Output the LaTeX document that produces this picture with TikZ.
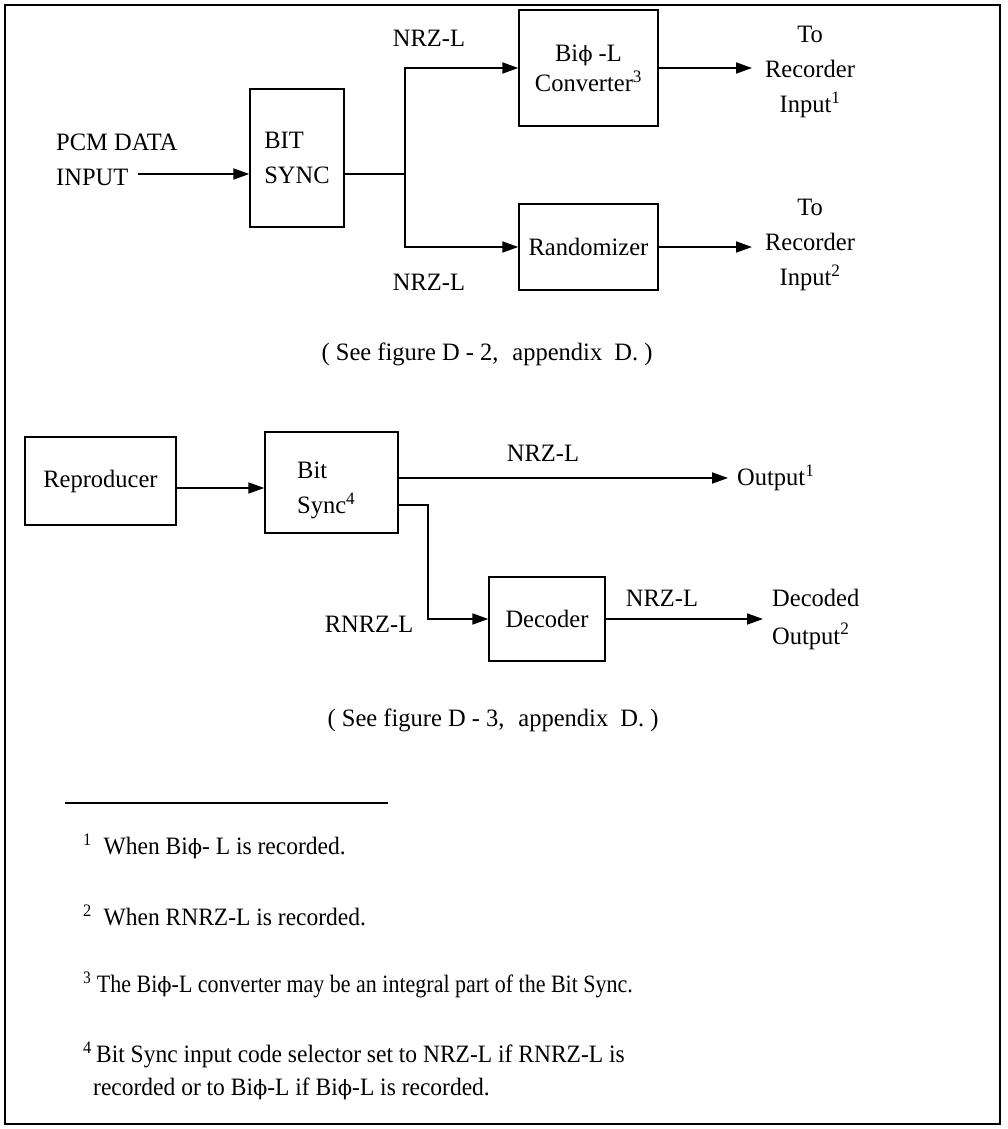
\documentclass[tikz,border=0pt]{standalone}
\usepackage{fontspec}
\setmainfont[FakeStretch=0.98]{Liberation Serif}
\newfontfamily\phifont{DejaVu Serif}
\newcommand{\bphi}{{\phifont\fontsize{21}{21}\selectfont ϕ}}
\usetikzlibrary{arrows.meta}
\begin{document}
\begin{tikzpicture}[x=1pt,y=-1pt,
  every node/.style={font=\fontsize{25}{35}\selectfont},
  box/.style={draw,line width=1.4pt,inner sep=0pt,align=center},
  conn/.style={line width=1.8pt},
  arr/.style={conn,-{Triangle[length=16pt,width=11pt]}},
  lbl/.style={inner sep=0pt,align=center},
  fnote/.style={inner sep=0pt,anchor=west,align=left,font=\fontsize{25}{33}\selectfont\addfontfeature{FakeStretch=0.94}}]
\useasboundingbox (0,0) rectangle (1007,1129);
\fill[white] (0,0) rectangle (1007,1129);
\draw[line width=2.5pt] (5,5) rectangle (1000,1124);

% ---- top section ----
\node[lbl,align=left,anchor=west] (pcm) at (56,160) {PCM DATA\\INPUT};
\node[box,align=left,minimum width=94pt,minimum height=138pt] (bsync) at (297,158) {BIT\\SYNC};
\coordinate (pcmout) at (138,174);
\draw[arr] (pcmout) -- (pcmout -| bsync.west);
\coordinate (j1) at (405,174);
\draw[conn] (bsync.east |- j1) -- (j1);
\node[box,minimum width=139pt,minimum height=116pt,font=\fontsize{25}{30}\selectfont] (conv) at (588.5,68) {Bi\bphi\ -L\\Converter\textsuperscript{3}};
\node[box,minimum width=139pt,minimum height=86pt] (rand) at (588.5,247) {Randomizer};
\draw[arr] (j1) |- (conv.west);
\draw[arr] (j1) |- (rand.west);
\node[lbl] (rec1) at (810,72) {To\\Recorder\\Input\textsuperscript{1}};
\coordinate (o1) at (752,68);
\draw[arr] (conv.east) -- (o1);
\node[lbl] (rec2) at (810,245) {To\\Recorder\\Input\textsuperscript{2}};
\coordinate (o2) at (752,247);
\draw[arr] (rand.east) -- (o2);
\node[lbl] (nrz1) at (429,38) {NRZ-L};
\node[lbl] (nrz2) at (429,282) {NRZ-L};
\node[lbl] (see1) at (487,354) {( See figure D - 2,\hspace{14pt}appendix\hspace{12pt}D. )};

% ---- bottom section ----
\node[box,minimum width=151pt,minimum height=88pt] (repro) at (100.5,481) {Reproducer};
\node[box,minimum width=133pt,minimum height=101pt] (bs) at (331.5,482.5) {};
\node[lbl,align=left,anchor=west] (bst) at (297,490) {Bit\\Sync\textsuperscript{4}};
\coordinate (ya) at (0,488);
\draw[arr] (repro.east |- ya) -- (bs.west |- ya);
\coordinate (out1) at (728,478);
\draw[arr] (bs.east |- out1) -- (out1);
\node[lbl,anchor=west] (outp1) at (737,478) {Output\textsuperscript{1}};
\node[lbl] (nrz3) at (543,453) {NRZ-L};
\node[box,minimum width=116pt,minimum height=84pt] (dec) at (547,619) {Decoder};
\coordinate (k1) at (428,505);
\draw[arr] (bs.east |- k1) -- (k1) |- (dec.west);
\node[lbl] (rnrz) at (369,624) {RNRZ-L};
\coordinate (out2) at (763,619);
\draw[arr] (dec.east) -- (out2);
\node[lbl] (nrz4) at (662,598) {NRZ-L};
\node[lbl,align=left,anchor=west,font=\fontsize{25}{38}\selectfont] (decout) at (772,619) {Decoded\\Output\textsuperscript{2}};
\node[lbl] (see2) at (493,720) {( See figure D - 3,\hspace{14pt}appendix\hspace{12pt}D. )};

% ---- footnotes ----
\coordinate (ra) at (65,803);
\coordinate (rb) at (388,803);
\draw[conn] (ra) -- (rb);
\node[fnote] (fn1) at (83,846) {\textsuperscript{1}\ \ When Bi\bphi- L is recorded.};
\node[fnote] (fn2) at (83,915) {\textsuperscript{2}\ \ When RNRZ-L is recorded.};
\node[fnote,font=\fontsize{25}{35}\selectfont\addfontfeature{FakeStretch=0.88}] (fn3) at (83,985) {\textsuperscript{3} The Bi\bphi-L converter may be an integral part of the Bit Sync.};
\node[fnote] (fn4) at (83,1071) {\textsuperscript{4}\,Bit Sync input code selector set to NRZ-L if RNRZ-L is\\\hspace{10pt}recorded or to Bi\bphi-L if Bi\bphi-L is recorded.};
\end{tikzpicture}
\end{document}
